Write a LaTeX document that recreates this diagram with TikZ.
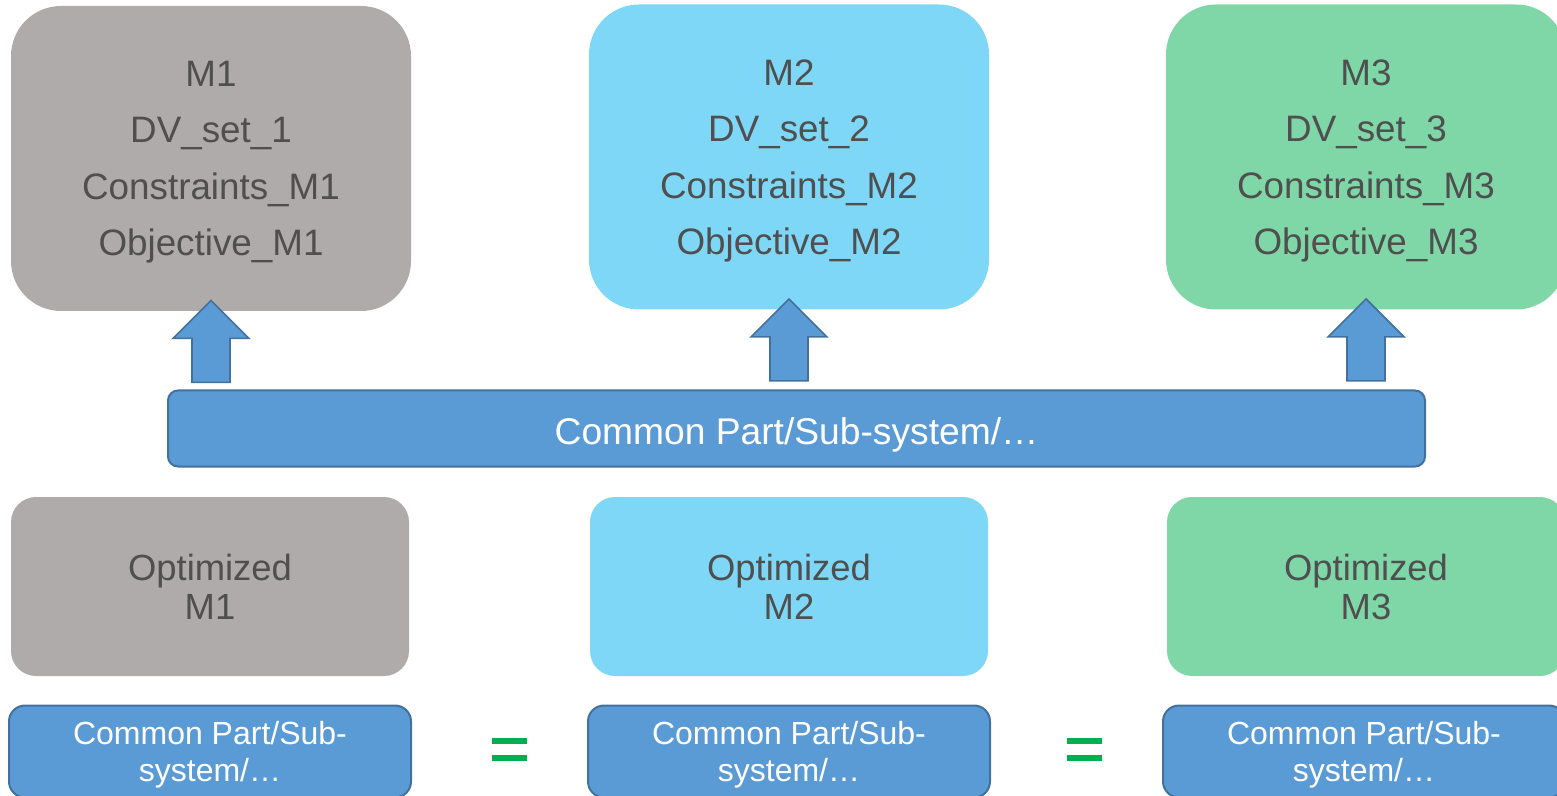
\documentclass[tikz,border=0pt]{standalone}
\usepackage{fontspec}
\setmainfont{Liberation Sans}
\usetikzlibrary{positioning}
\definecolor{ModelGray}{HTML}{AFABAA}
\definecolor{ModelBlue}{HTML}{7FD7F7}
\definecolor{ModelGreen}{HTML}{7FD7A8}
\definecolor{TextGray}{HTML}{4F4F4F}
\definecolor{PartBlue}{HTML}{5B9BD5}
\definecolor{PartEdge}{HTML}{41719C}
\definecolor{EqGreen}{HTML}{00B050}

\tikzset{
  modelbox/.style={rounded corners=25pt,minimum width=200pt,minimum height=152.5pt,
    align=center,text=TextGray,text depth=0pt,font=\fontsize{18.4}{28.2}\selectfont},
  optbox/.style={rounded corners=12.5pt,minimum width=199pt,minimum height=89.5pt,
    align=center,text=TextGray,font=\fontsize{18.2}{19.5}\selectfont},
  partbox/.style={draw=PartEdge,fill=PartBlue,line width=1pt,text=white,align=center},
  blockarr/.style={draw=PartEdge,fill=PartBlue,line width=0.8pt,line join=miter}
}

\begin{document}
\begin{tikzpicture}[x=0.5pt,y=-0.5pt]
    \useasboundingbox (0,0) rectangle (1557,796);
    \clip (0,0) rectangle (1557,796);

    % models
    \node[modelbox,fill=ModelGray] (m1) at (211,158.5) {M1\\DV\_set\_1\\Constraints\_M1\\Objective\_M1};
    \node[modelbox,fill=ModelBlue] (m2) at (789,157) {M2\\DV\_set\_2\\Constraints\_M2\\Objective\_M2};
    \node[modelbox,fill=ModelGreen] (m3) at (1366,157) {M3\\DV\_set\_3\\Constraints\_M3\\Objective\_M3};

    % shared part
    \node[partbox,rounded corners=5pt,minimum width=628.5pt,minimum height=38pt,
          text height=16.4pt,text depth=0pt,
          font=\fontsize{18.6}{20}\selectfont] (common) at (796.5,428.5) {Common Part/Sub-system/…};

    \foreach \m in {m1,m2,m3} {
      \draw[blockarr,shift={(\m.south)}] (0,-11) -- (38,27) -- (19,27) -- (19,71)
        -- (-19,71) -- (-19,27) -- (-38,27) -- cycle;
    }

    % optimized models
    \node[optbox,fill=ModelGray] (opt1) at (210,586.5) {Optimized\\M1};
    \node[optbox,fill=ModelBlue] (opt2) at (789,586.5) {Optimized\\M2};
    \node[optbox,fill=ModelGreen] (opt3) at (1366,586.5) {Optimized\\M3};

    \foreach \n/\x in {cp1/210,cp2/789,cp3/1364} {
      \node[partbox,rounded corners=8pt,minimum width=201pt,minimum height=46pt,text depth=0pt,
            font=\fontsize{16}{18.5}\selectfont] (\n) at (\x,751.5) {Common Part/Sub-\\system/…};
    }

    % equal signs
    \foreach \x in {509.5,1084.5} {
      \fill[EqGreen] (\x-17.5,738) rectangle (\x+17.5,744);
      \fill[EqGreen] (\x-17.5,755) rectangle (\x+17.5,761);
    }
  \end{tikzpicture}
\end{document}
